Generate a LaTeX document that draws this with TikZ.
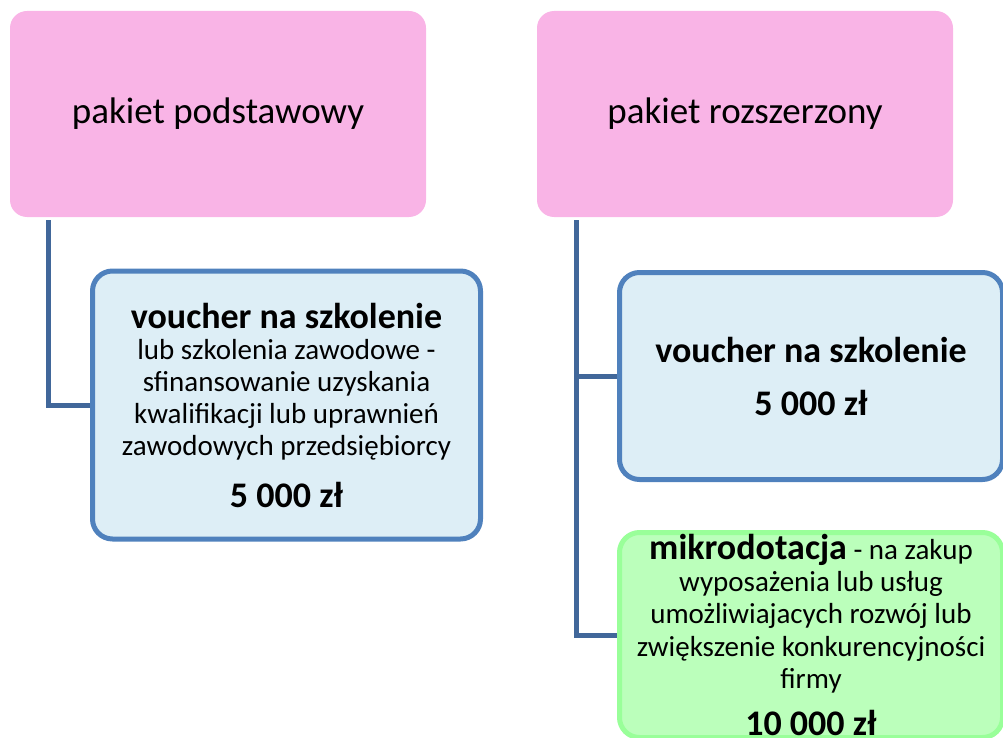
\documentclass[tikz,border=0pt]{standalone}
\usepackage{fontspec}
\setmainfont{Carlito}
\usetikzlibrary{positioning}
\definecolor{pakietpink}{HTML}{F9B4E6}
\definecolor{voucherfill}{HTML}{DDEEF6}
\definecolor{voucherline}{HTML}{4F81BD}
\definecolor{linkblue}{HTML}{41679A}
\definecolor{dotfill}{HTML}{BBFFBB}
\definecolor{dotline}{HTML}{99FF99}
\tikzset{
  pakiet/.style={fill=pakietpink, rounded corners=17pt, minimum width=416pt,
    minimum height=206pt, inner sep=0pt, font=\fontsize{37}{44}\selectfont},
  voucher/.style={fill=voucherfill, draw=voucherline, line width=5pt,
    rounded corners=20pt, inner sep=0pt, align=center,
    font=\fontsize{29}{32}\selectfont},
  dotacja/.style={fill=dotfill, draw=dotline, line width=5pt,
    rounded corners=20pt, inner sep=0pt, align=center,
    font=\fontsize{29}{32.5}\selectfont},
  link/.style={draw=linkblue, line width=5pt}
}
\newcommand{\naglowek}[1]{{\fontsize{36}{40}\selectfont\bfseries #1}}
\begin{document}
\begin{tikzpicture}[x=1pt,y=-1pt]
  \useasboundingbox (0,0) rectangle (1003,738);
  % Draw the two packages
  \node[pakiet] (podst) at (218,114) {pakiet podstawowy};
  \node[pakiet] (rozsz) at (745,114) {pakiet rozszerzony};
  % Draw the offers
  \node[voucher, minimum width=388pt, minimum height=268pt] (vch1) at (286.5,405)
    {\naglowek{voucher na szkolenie}\\[-1pt]
     lub szkolenia zawodowe -\\
     sfinansowanie uzyskania\\
     kwalifikacji lub uprawnień\\
     zawodowych przedsiębiorcy\\[20pt]
     \naglowek{5 000 zł}};
  \node[voucher, minimum width=383pt, minimum height=207pt] (vch2) at (811,376)
    {\naglowek{voucher na szkolenie}\\[21pt]
     \naglowek{5 000 zł}};
  \node[dotacja, minimum width=383pt, minimum height=205pt] (dot) at (811,635)
    {\naglowek{mikrodotacja} - na zakup\\[-1pt]
     wyposażenia lub usług\\
     umożliwiajacych rozwój lub\\
     zwiększenie konkurencyjności\\
     firmy\\[14pt]
     \naglowek{10 000 zł}};
  % Draw the connectors
  \coordinate (top1) at ([xshift=38.5pt,yshift=-3pt]podst.south west);
  \coordinate (top2) at ([xshift=40pt,yshift=-3pt]rozsz.south west);
  \draw[link] (top1) |- (vch1.west);
  \draw[link] (top2) |- (dot.west);
  \draw[link] (top2 |- vch2.west) -- (vch2.west);
\end{tikzpicture}
\end{document}
